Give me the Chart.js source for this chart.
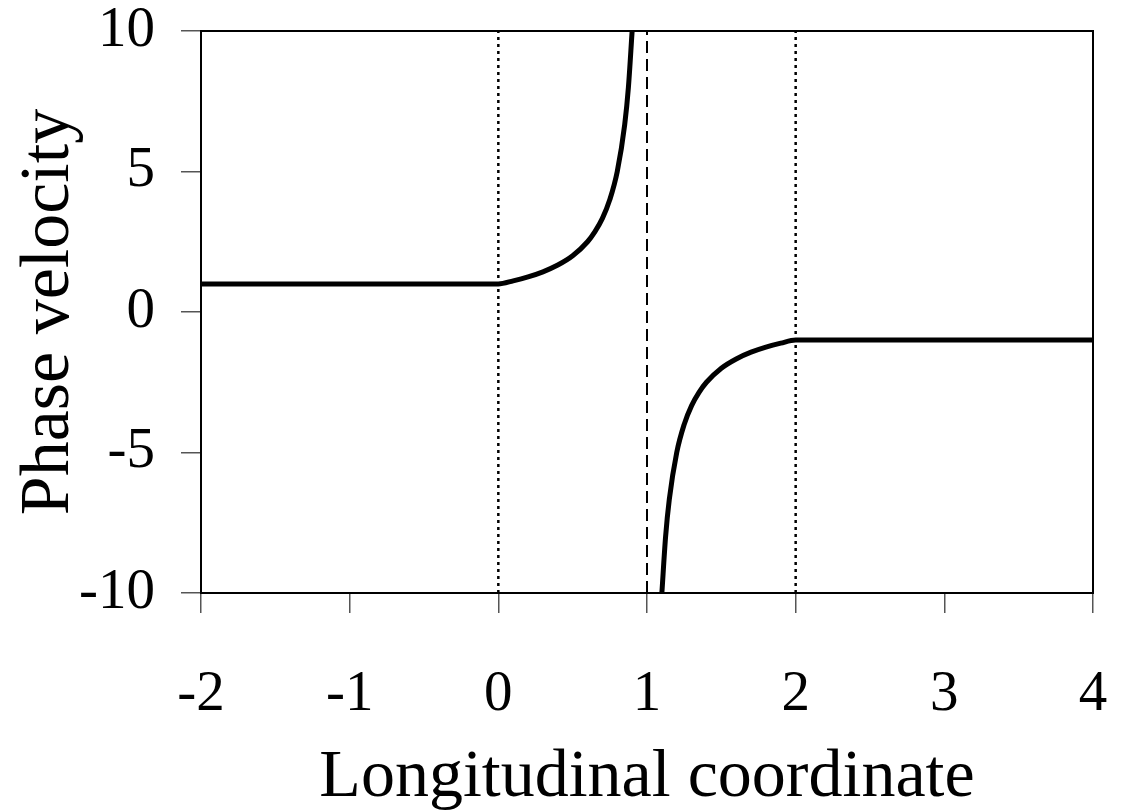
<!DOCTYPE html>
<html>
<head>
<meta charset="utf-8">
<script src="https://cdn.jsdelivr.net/npm/chart.js@4/dist/chart.umd.min.js"></script>
<style>
  html, body { margin: 0; padding: 0; background: #fff; }
  #wrap { width: 1125px; height: 812px; }
</style>
</head>
<body>
<div id="wrap"><canvas id="chart" width="1125" height="812"></canvas></div>
<script>
// Ejes
const xTicks = [-2, -1, 0, 1, 2, 3, 4];
const yTicks = [-10, -5, 0, 5, 10];

// Rama izquierda (antes de la asintota en x = 1)
const leftX = [-2, 0, 0.1, 0.2, 0.3, 0.4, 0.5, 0.6, 0.65, 0.7, 0.75, 0.8, 0.85, 0.875, 0.9];
const leftY = [1, 1, 1.11, 1.25, 1.43, 1.67, 2.0, 2.5, 2.86, 3.33, 4.0, 5.0, 6.67, 8.0, 10];

// Rama derecha (despues de la asintota)
const rightX = [1.1, 1.125, 1.15, 1.2, 1.25, 1.3, 1.35, 1.4, 1.5, 1.6, 1.7, 1.8, 1.9, 2, 4];
const rightY = [-10, -8.0, -6.67, -5.0, -4.0, -3.33, -2.86, -2.5, -2.0, -1.67, -1.43, -1.25, -1.11, -1, -1];

// Lineas verticales de referencia
const dottedAt = [0, 2];
const dashedAt = [1];

const FONT = "'Liberation Serif', 'Times New Roman', serif";

const toPoints = (xs, ys) => xs.map((x, i) => ({ x, y: ys[i] }));
const vLine = (x) => [{ x, y: yTicks[0] }, { x, y: yTicks[yTicks.length - 1] }];

const refSets = [
    ...dottedAt.map(x => ({
        data: vLine(x), borderColor: '#000', borderWidth: 2.5, borderDash: [3, 4], pointRadius: 0
    })),
    ...dashedAt.map(x => ({
        data: vLine(x), borderColor: '#000', borderWidth: 2, borderDash: [12, 6], pointRadius: 0
    }))
];

const curveStyle = {
    borderColor: '#000', borderWidth: 5, pointRadius: 0,
    cubicInterpolationMode: 'monotone', borderCapStyle: 'butt'
};

// Marco completo alrededor del area del grafico
const frame = {
    id: 'frame',
    afterDatasetsDraw(chart) {
        const { ctx, chartArea: a } = chart;
        ctx.save();
        ctx.strokeStyle = '#000';
        ctx.lineWidth = 2;
        ctx.strokeRect(a.left, a.top, a.right - a.left, a.bottom - a.top);
        ctx.restore();
    }
};

new Chart(document.getElementById('chart'), {
    type: 'line',
    data: {
        datasets: [
            ...refSets,
            { data: toPoints(leftX, leftY), ...curveStyle },
            { data: toPoints(rightX, rightY), ...curveStyle }
        ]
    },
    options: {
        responsive: false,
        animation: false,
        clip: false,
        layout: { padding: { top: 31, right: 32, left: 0, bottom: 0 } },
        plugins: { legend: { display: false }, tooltip: { enabled: false } },
        scales: {
            x: {
                type: 'linear', min: -2, max: 4,
                afterBuildTicks: s => { s.ticks = xTicks.map(v => ({ value: v })); },
                afterFit: s => { s.height = 219; s.paddingLeft = 0; s.paddingRight = 0; },
                grid: { drawOnChartArea: false, drawTicks: true, tickLength: 20, color: '#555', lineWidth: 1.5 },
                border: { color: '#000', width: 2 },
                ticks: { color: '#000', padding: 48, maxRotation: 0, font: { family: FONT, size: 57 } },
                title: {
                    display: true, text: 'Longitudinal coordinate', color: '#000',
                    font: { family: FONT, size: 68, lineHeight: 1 }, padding: { top: 0, bottom: 0 }
                }
            },
            y: {
                type: 'linear', min: -10, max: 10,
                afterBuildTicks: s => { s.ticks = yTicks.map(v => ({ value: v })); },
                afterFit: s => { s.width = 201; s.paddingTop = 0; s.paddingBottom = 0; },
                grid: { drawOnChartArea: false, drawTicks: true, tickLength: 20, color: '#555', lineWidth: 1.5 },
                border: { color: '#000', width: 2 },
                ticks: { color: '#000', padding: 26, font: { family: FONT, size: 57 } },
                title: {
                    display: true, text: 'Phase velocity', color: '#000',
                    font: { family: FONT, size: 70, lineHeight: 1 }, padding: { top: 15, bottom: 0 }
                }
            }
        }
    },
    plugins: [frame]
});
</script>
</body>
</html>
